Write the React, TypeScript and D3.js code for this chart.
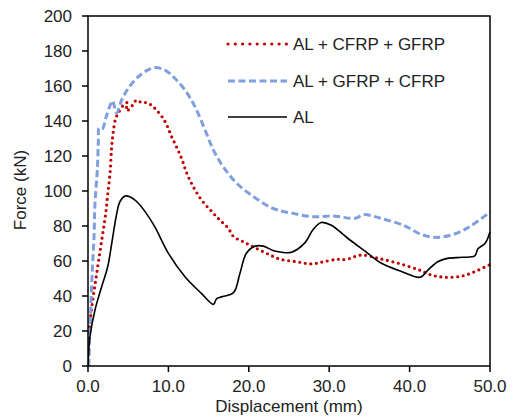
import React from "react";
import * as d3 from "d3";

const xTicks = [0, 10, 20, 30, 40, 50];
const yTicks = [0, 20, 40, 60, 80, 100, 120, 140, 160, 180, 200];

const seriesNames = ["AL + CFRP + GFRP", "AL + GFRP + CFRP", "AL"];

const redData: [number, number][] = [
  [0, 0], [0.04, 9], [0.12, 19], [0.37, 30], [0.66, 40], [0.96, 49], [1.28, 59], [1.58, 68],
  [1.91, 78], [2.2, 87], [2.45, 98], [2.74, 110], [2.94, 125], [3.15, 134], [3.44, 141.5],
  [3.77, 144.5], [4.39, 149], [4.9, 150.5], [4.75, 146], [5.1, 146.5], [5.64, 149.7], [6.05, 152],
  [6.68, 150.5], [7.3, 150.5], [7.9, 149], [8.5, 146.3], [9.2, 142.5], [9.8, 137.7], [10.4, 131],
  [11.0, 125.3], [11.65, 118.5], [12.3, 110], [13.1, 102.4], [14.1, 95], [15.4, 88.2], [16.4, 83.4],
  [17.45, 78.7], [18.1, 74], [19.3, 71], [20.6, 68], [22.2, 64.4], [23.9, 61], [25.95, 59.6],
  [27.8, 58.3], [29.3, 59.6], [31.1, 61], [32.0, 60.8], [34.0, 63.4], [36.1, 61.5], [38.6, 58.7],
  [41.1, 55], [42.7, 52], [44.4, 50.7], [46.5, 51.4], [48.1, 53.9], [50, 58],
];

const blueData: [number, number][] = [
  [0.1, 0], [0.21, 17], [0.37, 36], [0.54, 55], [0.75, 74], [0.87, 93], [1.16, 112], [1.3, 130],
  [1.37, 136], [1.78, 135.5], [2.3, 143], [3.07, 151.5], [3.3, 148], [3.57, 144.5], [4.19, 152],
  [5.02, 158.7], [6.26, 165.3], [7.3, 168.8], [8.33, 170.5], [9.58, 169.1], [10.8, 164.4],
  [12.06, 157.7], [13.3, 148.2], [14.55, 135], [15.6, 123.4], [16.8, 114], [18.5, 104.4],
  [20.6, 96.7], [23.0, 90.1], [25.5, 87.2], [28.0, 85.3], [30.5, 85.7], [33.2, 84.4], [34.3, 86.5],
  [36.4, 84.4], [39.3, 80.3], [41.4, 75.3], [43.3, 73.5], [45.5, 75.3], [47.6, 80], [50, 88],
];

const blackData: [number, number][] = [
  [0, 0], [0.05, 5], [0.25, 17], [0.87, 32], [1.7, 45.3], [2.45, 56.7], [2.95, 70], [3.57, 87],
  [3.98, 94], [4.6, 97.1], [5.2, 96.7], [6.05, 94], [7.1, 88.2], [8.3, 79.6], [10.0, 64.4],
  [12.06, 51], [14.1, 41.5], [15.6, 35.2], [16.0, 38.5], [16.6, 39.5], [18.1, 41.9], [18.9, 53],
  [19.7, 64.4], [20.8, 68.5], [21.8, 68.5], [23.0, 66], [24.1, 65], [25.3, 65], [27.0, 70.5],
  [28.0, 78], [29.0, 82], [30.2, 80.6], [32.3, 73], [34.5, 65.5], [36.5, 58.7], [39.0, 54],
  [41.3, 50.7], [42.3, 54.9], [43.5, 59.6], [44.7, 61.5], [46.5, 62.1], [48.1, 62.9], [48.5, 67],
  [49.4, 70.1], [50, 76.7],
];

const W = 515;
const H = 417;
const left = 88, right = 490, top = 16, bottom = 366;
const font = "'Liberation Sans', Arial, sans-serif";

export default function App() {
  const x = d3.scaleLinear().domain([0, 50]).range([left, right]);
  const y = d3.scaleLinear().domain([0, 200]).range([bottom, top]);
  const line = d3
    .line<[number, number]>()
    .x((d) => x(d[0]))
    .y((d) => y(d[1]))
    .curve(d3.curveCatmullRom.alpha(0.5));

  const styles = [
    { stroke: "#C00000", width: 3.2, dash: "0 5.6", cap: "round" as const, data: redData },
    { stroke: "#7F9FDF", width: 3, dash: "7 3.5", cap: "butt" as const, data: blueData },
    { stroke: "#000000", width: 1.6, dash: undefined, cap: "butt" as const, data: blackData },
  ];
  const legendY = [44, 81, 117];

  return (
    <svg width={W} height={H} style={{ position: "absolute", left: 0, top: 0, background: "#fff" }}>
      <defs>
        <clipPath id="plot">
          <rect x={left} y={top - 2} width={right - left + 2} height={bottom - top + 2} />
        </clipPath>
      </defs>
      <rect x={0} y={0} width={W} height={H} fill="#fff" />
      <g clipPath="url(#plot)">
        {styles.map((s, i) => (
          <path
            key={i}
            d={line(s.data) || ""}
            fill="none"
            stroke={s.stroke}
            strokeWidth={s.width}
            strokeDasharray={s.dash}
            strokeLinecap={s.cap}
            strokeLinejoin="round"
          />
        ))}
      </g>
      <rect x={left} y={top} width={right - left} height={bottom - top} fill="none" stroke="#000" strokeWidth={1.5} />
      {yTicks.map((t) => (
        <g key={"y" + t}>
          <line x1={left - 6} x2={left} y1={y(t)} y2={y(t)} stroke="#000" strokeWidth={1.5} />
          <text x={72} y={y(t) + 6} textAnchor="end" fontFamily={font} fontSize={17} fill="#222">
            {t}
          </text>
        </g>
      ))}
      {xTicks.map((t) => (
        <g key={"x" + t}>
          <line x1={x(t)} x2={x(t)} y1={bottom} y2={bottom + 6} stroke="#000" strokeWidth={1.5} />
          <text x={x(t)} y={392} textAnchor="middle" fontFamily={font} fontSize={17} fill="#222">
            {t.toFixed(1)}
          </text>
        </g>
      ))}
      <text x={(left + right) / 2} y={412} textAnchor="middle" fontFamily={font} fontSize={17} fill="#222">
        Displacement (mm)
      </text>
      <text
        transform={`translate(26, 190) rotate(-90)`}
        textAnchor="middle"
        fontFamily={font}
        fontSize={17}
        fill="#222"
      >
        Force (kN)
      </text>
      {styles.map((s, i) => (
        <g key={"l" + i}>
          <line
            x1={228}
            x2={287}
            y1={legendY[i]}
            y2={legendY[i]}
            stroke={s.stroke}
            strokeWidth={s.width}
            strokeDasharray={i === 0 ? "0 7.3" : s.dash}
            strokeLinecap={s.cap}
          />
          <text x={293} y={legendY[i] + 6} fontFamily={font} fontSize={17} fill="#222">
            {seriesNames[i]}
          </text>
        </g>
      ))}
    </svg>
  );
}
